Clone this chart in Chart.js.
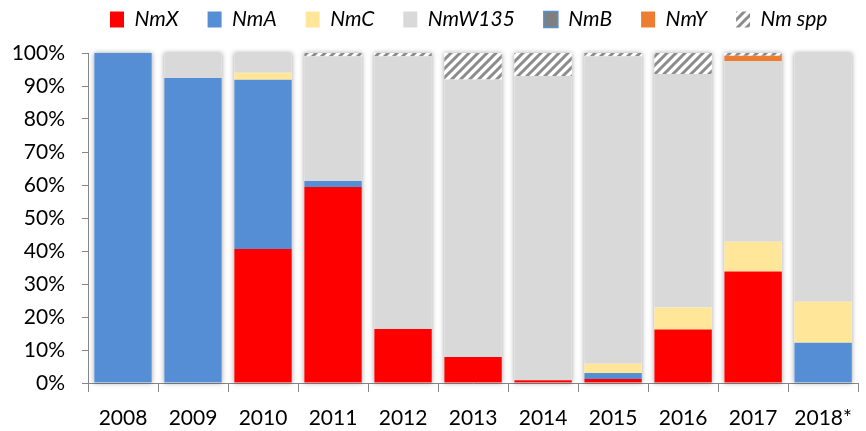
<!DOCTYPE html>
<html>
<head>
<meta charset="utf-8">
<script src="https://cdn.jsdelivr.net/npm/chart.js@4/dist/chart.umd.min.js"></script>
<style>
  html,body{margin:0;padding:0;background:#fff}
  canvas{display:block}
</style>
</head>
<body>
<canvas id="myChart" width="866" height="431"></canvas>
<script>
var years=["2008","2009","2010","2011","2012","2013","2014","2015","2016","2017","2018*"]
var nmX=   [0,   0,   40.6,59.4,16.4,7.9, 0.8, 1.2, 16.2,33.8,0]
var nmA=   [100, 92.4,51.3,1.8, 0,   0,   0,   1.8, 0,   0,   12.2]
var nmC=   [0,   0,   2.1, 0,   0,   0,   0,   2.8, 6.7, 9.0, 12.4]
var nmW135=[0,   7.6, 6.0, 37.8,82.6,84.1,92.2,93.2,70.7,54.8,75.4]
var nmB=   [0,   0,   0,   0,   0,   0,   0,   0,   0,   0,   0]
var nmY=   [0,   0,   0,   0,   0,   0,   0,   0,   0,   1.6, 0]
var nmSpp= [0,   0,   0,   1.0, 1.0, 8.0, 7.0, 1.0, 6.4, 0.8, 0]
var yTicks=[0,10,20,30,40,50,60,70,80,90,100]

// hatch pattern for Nm spp
function makeHatch(){
    var c=document.createElement("canvas")
    c.width=9;c.height=9
    var g=c.getContext("2d")
    g.fillStyle="#ffffff"
    g.fillRect(0,0,9,9)
    g.strokeStyle="#8c8c8c"
    g.lineWidth=3
    g.beginPath()
    g.moveTo(-2,11);g.lineTo(11,-2)
    g.moveTo(-2,2);g.lineTo(2,-2)
    g.moveTo(7,11);g.lineTo(11,7)
    g.stroke()
    return g.createPattern(c,"repeat")
}
var hatch=makeHatch()

// soft shadow behind each stacked bar
var shadowPlugin={
    id:"barShadow",
    beforeDatasetsDraw:function(chart){
        var ctx=chart.ctx
        var meta=chart.getDatasetMeta(0)
        var ys=chart.scales.y
        ctx.save()
        ctx.shadowColor="rgba(0,0,0,0.35)"
        ctx.shadowBlur=5
        ctx.fillStyle="#ffffff"
        for(let i=0;i<years.length;i++){
            var total=0
            chart.data.datasets.forEach(function(d){total+=d.data[i]})
            var el=meta.data[i]
            var top=ys.getPixelForValue(total)
            var bottom=ys.getPixelForValue(0)
            ctx.fillRect(el.x-el.width/2,top,el.width,bottom-top)
        }
        ctx.restore()
    }
}

// legend: fixed height, first item starting at x=110, pulled up to the top
var legendStart=110
var legendPlacer={
    id:"legendPlacer",
    beforeLayout:function(chart){
        var lg=chart.legend
        if(lg && !lg._fixed){
            var fit=lg.fit
            lg.fit=function(){fit.call(this);this.height=53}
            lg._fixed=true
        }
    },
    afterLayout:function(chart){
        var lg=chart.legend
        var pad=lg.options.labels.padding
        lg.right=1200
        lg.left=2*legendStart-pad-lg.right+lg.lineWidths[0]
        lg.top=-20
    }
}

var ctx=document.getElementById("myChart")
var myChart=new Chart(ctx,{
    type:"bar",
    data:{
        labels:years,
        datasets:[
            {label:"NmX",data:nmX,backgroundColor:"#ff0000"},
            {label:"NmA",data:nmA,backgroundColor:"#558ed5"},
            {label:"NmC",data:nmC,backgroundColor:"#ffe699"},
            {label:"NmW135",data:nmW135,backgroundColor:"#d9d9d9"},
            {label:"NmB",data:nmB,backgroundColor:"#7f7f7f",borderColor:"#558ed5",borderWidth:1.5},
            {label:"NmY",data:nmY,backgroundColor:"#ed7d31"},
            {label:"Nm spp",data:nmSpp,backgroundColor:hatch}
        ]
    },
    options:{
        responsive:false,
        devicePixelRatio:1,
        animation:false,
        layout:{padding:{left:0,right:1,top:0,bottom:0}},
        datasets:{bar:{categoryPercentage:1,barPercentage:0.82,borderWidth:0}},
        plugins:{
            tooltip:{enabled:false},
            legend:{
                position:"top",
                labels:{
                    boxWidth:14,
                    boxHeight:16,
                    padding:29,
                    color:"#000",
                    font:{family:"Lato",size:21,style:"italic"}
                }
            }
        },
        scales:{
            x:{
                stacked:true,
                afterFit:function(axis){axis.height=48},
                grid:{display:true,drawOnChartArea:false,offset:true,color:"#868686",tickLength:9},
                border:{color:"#868686"},
                ticks:{color:"#000",font:{family:"Lato",size:21},padding:14}
            },
            y:{
                stacked:true,
                min:0,max:100,
                afterFit:function(axis){axis.width=88},
                afterBuildTicks:function(axis){axis.ticks=yTicks.map(function(v){return {value:v}})},
                grid:{display:true,drawOnChartArea:false,color:"#868686",tickLength:6},
                border:{color:"#868686"},
                ticks:{color:"#000",font:{family:"Lato",size:21},padding:17,
                    callback:function(v){return v+"%"}}
            }
        }
    },
    plugins:[shadowPlugin,legendPlacer]
});
</script>
</body>
</html>
